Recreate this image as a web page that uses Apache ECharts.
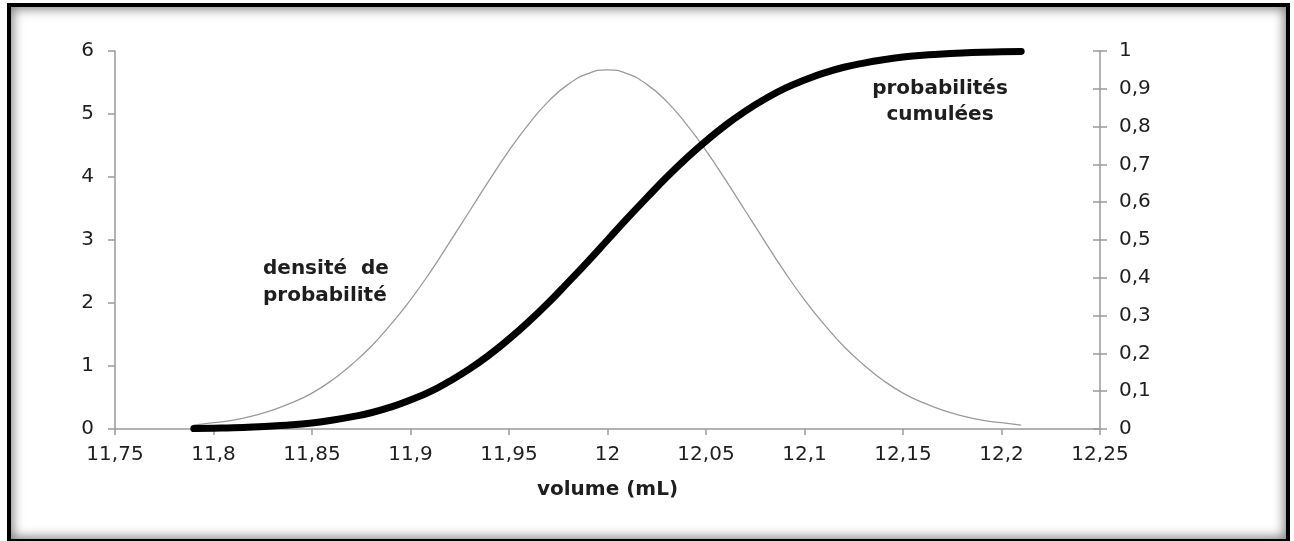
<!DOCTYPE html>
<html>
<head>
<meta charset="utf-8">
<script src="https://cdn.jsdelivr.net/npm/echarts@6/dist/echarts.min.js"></script>
<style>
  html, body { margin: 0; padding: 0; background: #fff; }
  #wrap { position: relative; width: 1294px; height: 541px; overflow: hidden; }
  #chart { position: absolute; left: 0; top: 0; width: 1294px; height: 541px; }
  #frame {
    position: absolute; left: 7px; top: 3px; width: 1283px; height: 540px;
    border: 4px solid #000; box-sizing: border-box;
    box-shadow: inset 0 0 11px 2px rgba(0,0,0,0.5);
    pointer-events: none;
  }
</style>
</head>
<body>
<div id="wrap">
  <div id="chart"></div>
  <div id="frame"></div>
</div>
<script>
// volume (mL) sampled every 0.01 mL
const volumes = [
  11.79, 11.80, 11.81, 11.82, 11.83, 11.84, 11.85, 11.86, 11.87, 11.88, 11.89,
  11.90, 11.91, 11.92, 11.93, 11.94, 11.95, 11.96, 11.97, 11.98, 11.99, 12.00,
  12.01, 12.02, 12.03, 12.04, 12.05, 12.06, 12.07, 12.08, 12.09, 12.10,
  12.11, 12.12, 12.13, 12.14, 12.15, 12.16, 12.17, 12.18, 12.19, 12.20, 12.21
];
// densité de probabilité (left axis)
const densite = [
  0.06, 0.10, 0.14, 0.21, 0.30, 0.42, 0.57, 0.77, 1.02, 1.31, 1.66,
  2.05, 2.49, 2.97, 3.46, 3.95, 4.42, 4.84, 5.20, 5.47, 5.64, 5.70,
  5.64, 5.47, 5.20, 4.84, 4.42, 3.95, 3.46, 2.97, 2.49, 2.05,
  1.66, 1.31, 1.02, 0.77, 0.57, 0.42, 0.30, 0.21, 0.14, 0.10, 0.06
];
// probabilités cumulées (right axis)
const cumulees = [
  0.001, 0.002, 0.003, 0.005, 0.008, 0.011, 0.016, 0.023, 0.032, 0.043, 0.058,
  0.077, 0.099, 0.127, 0.159, 0.196, 0.238, 0.284, 0.334, 0.388, 0.443, 0.500,
  0.557, 0.612, 0.666, 0.716, 0.762, 0.804, 0.841, 0.873, 0.901, 0.923,
  0.942, 0.957, 0.968, 0.977, 0.984, 0.989, 0.992, 0.995, 0.997, 0.998, 0.999
];
const xTicks = { min: 11.75, max: 12.25, step: 0.05 };
const leftTicks = { min: 0, max: 6, step: 1 };
const rightTicks = { min: 0, max: 1, step: 0.1 };

const FONT = 'DejaVu Sans';
const TXT = '#1e1e1e';
const AXIS = '#9a9a9a';
const comma = v => String(+(+v).toFixed(2)).replace('.', ',');

const chart = echarts.init(document.getElementById('chart'), null, { renderer: 'canvas' });

const labelStyle = { color: TXT, fontFamily: FONT, fontSize: 20 };

chart.setOption({
  animation: false,
  backgroundColor: '#fff',
  grid: { left: 115, right: 194, top: 51, bottom: 112 },
  xAxis: {
    type: 'value',
    min: xTicks.min, max: xTicks.max, interval: xTicks.step,
    name: 'volume (mL)', nameLocation: 'middle', nameGap: 51,
    nameTextStyle: { color: TXT, fontFamily: FONT, fontSize: 20, fontWeight: 'bold' },
    axisLine: { lineStyle: { color: AXIS, width: 1.5 } },
    axisTick: { length: 6, lineStyle: { color: AXIS, width: 1.5 } },
    axisLabel: Object.assign({ margin: 16, formatter: comma }, labelStyle),
    splitLine: { show: false }
  },
  yAxis: [
    {
      type: 'value', position: 'left',
      min: leftTicks.min, max: leftTicks.max, interval: leftTicks.step,
      axisLine: { show: true, lineStyle: { color: AXIS, width: 1.5 } },
      axisTick: { show: true, length: 7, lineStyle: { color: AXIS, width: 1.5 } },
      axisLabel: Object.assign({ margin: 21, formatter: comma }, labelStyle),
      splitLine: { show: false }
    },
    {
      type: 'value', position: 'right',
      min: rightTicks.min, max: rightTicks.max, interval: rightTicks.step,
      axisLine: { show: true, lineStyle: { color: AXIS, width: 1.5 } },
      axisTick: { show: true, length: 7, lineStyle: { color: AXIS, width: 1.5 } },
      axisLabel: Object.assign({ margin: 19, formatter: comma }, labelStyle),
      splitLine: { show: false }
    },
    {
      // inner half of the right-axis cross ticks
      type: 'value', position: 'right',
      min: rightTicks.min, max: rightTicks.max, interval: rightTicks.step,
      axisLine: { show: false },
      axisTick: { show: true, inside: true, length: 7, lineStyle: { color: AXIS, width: 1.5 } },
      axisLabel: { show: false },
      splitLine: { show: false }
    }
  ],
  series: [
    {
      name: 'densité de probabilité',
      type: 'line', yAxisIndex: 0, smooth: true, symbol: 'none',
      lineStyle: { color: '#9a9a9a', width: 1.3 },
      data: volumes.map((v, i) => [v, densite[i]]),
      z: 2
    },
    {
      name: 'probabilités cumulées',
      type: 'line', yAxisIndex: 1, smooth: true, symbol: 'none',
      lineStyle: { color: '#000', width: 7, cap: 'round' },
      data: volumes.map((v, i) => [v, cumulees[i]]),
      z: 3
    }
  ],
  graphic: [
    {
      type: 'text', x: 263, y: 255,
      style: {
        text: 'densité  de\nprobabilité', fill: TXT,
        font: 'bold 20px "DejaVu Sans"', lineHeight: 27,
        align: 'left', verticalAlign: 'top'
      }
    },
    {
      type: 'text', x: 940, y: 76,
      style: {
        text: 'probabilités\ncumulées', fill: TXT,
        font: 'bold 20px "DejaVu Sans"', lineHeight: 26,
        align: 'center', verticalAlign: 'top'
      }
    }
  ]
});
</script>
</body>
</html>
